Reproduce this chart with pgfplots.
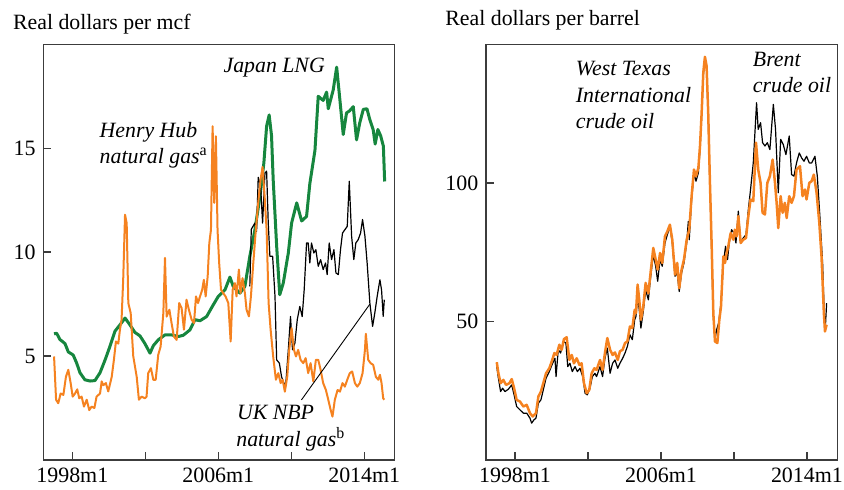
\documentclass[border=0pt,11pt]{standalone}
\usepackage{fontspec}
\setmainfont{Liberation Serif}
\usepackage{pgfplots}
\pgfplotsset{compat=1.18}
\definecolor{lng}{RGB}{22,134,62}
\definecolor{org}{RGB}{245,130,32}
\definecolor{axgray}{RGB}{60,60,60}
\pgfplotsset{
  panel/.style={
    scale only axis, width=175.6bp, height=207.85bp,
    xmin=1996.41, xmax=2015.66,
    xtick={1998,2002,2006,2010,2014},
    xticklabels={1998m1,,2006m1,,2014m1},
    tick pos=left, tick align=inside,
    major tick length=4bp,
    axis line style={axgray, line width=0.7bp},
    every tick/.style={axgray, line width=0.7bp},
    /pgf/number format/assume math mode=true,
    tick label style={font=\fontsize{11}{13}\selectfont},
    clip mode=individual,
  }
}
\begin{document}
\begin{tikzpicture}
% ---------------- left panel ----------------
\begin{axis}[panel, at={(21.65bp,15bp)}, anchor=south west,
  ymin=0, ymax=20, ytick={5,10,15}]
% Japan LNG
\addplot[lng, line width=1.5bp, line join=round] coordinates {
(1997.00,6.07) (1997.14,6.10) (1997.32,5.80) (1997.60,5.60) (1997.78,5.20) (1998.05,5.05) (1998.24,4.66) (1998.42,4.20) (1998.69,3.86) (1998.97,3.80) (1999.24,3.82) (1999.52,4.20) (1999.79,4.80) (2000.06,5.46) (2000.34,6.20) (2000.61,6.50) (2000.89,6.83) (2001.16,6.50) (2001.43,6.14) (2001.71,5.97) (2001.98,5.60) (2002.26,5.14) (2002.44,5.50) (2002.71,5.78) (2003.08,6.02) (2003.44,6.02) (2003.81,5.94) (2004.08,6.00) (2004.45,6.26) (2004.72,6.75) (2005.00,6.70) (2005.36,6.90) (2005.73,7.47) (2006.00,7.87) (2006.37,8.19) (2006.64,8.80) (2006.82,8.35) (2007.19,8.03) (2007.46,8.35) (2007.73,9.80) (2008.01,11.08) (2008.29,12.70) (2008.50,14.30) (2008.65,16.06) (2008.79,16.60) (2008.92,15.60) (2009.01,13.50) (2009.20,10.30) (2009.37,7.95) (2009.56,8.50) (2009.84,9.96) (2010.02,11.40) (2010.30,12.37) (2010.57,11.50) (2010.84,11.72) (2011.02,13.30) (2011.30,14.90) (2011.48,17.50) (2011.75,17.30) (2011.94,17.70) (2012.03,16.90) (2012.30,17.80) (2012.49,18.90) (2012.67,17.30) (2012.85,15.66) (2013.03,16.70) (2013.20,16.80) (2013.40,17.00) (2013.58,15.40) (2013.75,16.20) (2013.95,16.87) (2014.15,16.90) (2014.30,16.40) (2014.49,15.90) (2014.60,15.20) (2014.75,15.90) (2014.90,15.60) (2015.05,15.10) (2015.12,13.40)
};
% UK NBP
\addplot[black, line width=0.6bp, line join=round] coordinates {
(2007.73,8.35) (2007.81,11.10) (2008.01,11.40) (2008.10,11.00) (2008.19,13.60) (2008.32,13.20) (2008.43,11.40) (2008.56,13.80) (2008.65,13.90) (2008.74,11.40) (2008.83,9.80) (2008.98,9.80) (2009.11,7.87) (2009.20,4.82) (2009.35,4.66) (2009.47,4.00) (2009.60,3.70) (2009.69,3.53) (2009.84,5.30) (2009.96,6.90) (2010.07,5.30) (2010.20,5.62) (2010.33,6.75) (2010.47,7.39) (2010.60,6.90) (2010.71,8.19) (2010.84,10.44) (2010.93,10.44) (2011.02,9.48) (2011.11,10.44) (2011.24,9.96) (2011.35,10.12) (2011.48,9.32) (2011.61,9.64) (2011.75,9.16) (2011.88,9.48) (2011.97,8.92) (2012.08,10.44) (2012.21,9.64) (2012.34,10.12) (2012.45,9.00) (2012.58,8.92) (2012.70,10.12) (2012.81,10.92) (2012.94,11.08) (2013.07,11.24) (2013.18,13.41) (2013.31,10.76) (2013.43,9.64) (2013.54,10.44) (2013.67,10.60) (2013.80,10.92) (2013.91,11.57) (2014.04,10.76) (2014.16,9.48) (2014.31,7.55) (2014.46,6.43) (2014.58,7.07) (2014.71,7.87) (2014.86,8.67) (2014.95,8.19) (2015.04,6.91) (2015.10,7.71)
};
% Henry Hub
\addplot[org, line width=1bp, line join=round] coordinates {
(1997.00,4.98) (1997.11,2.90) (1997.23,2.73) (1997.36,3.20) (1997.51,3.13) (1997.65,4.00) (1997.78,4.34) (1997.91,3.70) (1998.02,3.05) (1998.15,3.20) (1998.27,3.40) (1998.38,2.97) (1998.51,3.05) (1998.64,2.57) (1998.79,2.90) (1998.93,2.40) (1999.06,2.57) (1999.21,2.50) (1999.33,3.05) (1999.52,3.20) (1999.61,3.78) (1999.70,3.60) (1999.84,3.70) (1999.97,3.30) (2000.16,4.00) (2000.28,4.82) (2000.39,5.70) (2000.52,5.60) (2000.61,6.26) (2000.70,6.75) (2000.79,8.70) (2000.89,11.80) (2000.98,11.40) (2001.07,7.55) (2001.20,7.07) (2001.34,5.00) (2001.53,4.00) (2001.65,2.90) (2001.80,3.05) (2001.98,2.97) (2002.07,3.05) (2002.16,4.18) (2002.31,4.42) (2002.44,3.86) (2002.57,3.86) (2002.71,5.06) (2002.84,5.46) (2002.99,7.07) (2003.08,9.72) (2003.17,6.90) (2003.32,7.23) (2003.44,6.59) (2003.57,5.94) (2003.72,5.78) (2003.86,7.55) (2003.99,7.31) (2004.12,6.27) (2004.26,7.71) (2004.39,7.23) (2004.54,6.75) (2004.67,6.59) (2004.78,7.87) (2004.89,7.55) (2005.00,7.87) (2005.12,8.19) (2005.21,8.67) (2005.31,7.87) (2005.42,8.84) (2005.51,10.44) (2005.60,11.08) (2005.69,16.06) (2005.78,12.37) (2005.87,15.58) (2005.96,11.08) (2006.05,9.48) (2006.15,8.19) (2006.27,8.03) (2006.40,7.87) (2006.55,7.55) (2006.68,5.70) (2006.79,8.19) (2006.91,8.51) (2007.00,7.87) (2007.13,9.16) (2007.22,8.03) (2007.33,8.75) (2007.46,8.03) (2007.55,7.23) (2007.68,6.91) (2007.79,7.87) (2007.92,9.48) (2008.06,11.08) (2008.19,12.37) (2008.32,13.50) (2008.43,14.10) (2008.54,12.70) (2008.65,11.08) (2008.76,7.55) (2008.87,6.27) (2009.01,4.98) (2009.16,3.86) (2009.29,4.18) (2009.42,3.70) (2009.53,3.86) (2009.65,3.29) (2009.78,4.00) (2009.89,5.30) (2010.02,6.35) (2010.15,5.30) (2010.26,4.98) (2010.38,5.30) (2010.51,4.82) (2010.66,4.66) (2010.79,4.90) (2010.93,4.18) (2011.06,4.66) (2011.21,3.78) (2011.35,4.82) (2011.48,4.82) (2011.61,4.34) (2011.75,3.70) (2011.90,3.37) (2012.03,2.90) (2012.16,2.41) (2012.26,2.09) (2012.39,2.90) (2012.54,3.37) (2012.67,3.29) (2012.81,3.70) (2012.94,3.53) (2013.07,3.86) (2013.21,4.18) (2013.34,4.26) (2013.49,3.70) (2013.62,3.53) (2013.76,3.70) (2013.91,4.18) (2014.04,5.30) (2014.09,6.07) (2014.22,4.82) (2014.35,4.66) (2014.49,4.58) (2014.64,4.00) (2014.77,3.86) (2014.86,4.10) (2014.95,3.70) (2015.04,2.97) (2015.10,2.90)
};
\draw[black, line width=0.45bp] (axis cs:2010.56,2.89) -- (axis cs:2014.31,7.50);
\node[anchor=base west, inner sep=0, font=\itshape] at (axis cs:2006.27,18.64) {Japan LNG};
\node[anchor=base west, inner sep=0, font=\itshape] at (axis cs:1999.48,15.50) {Henry Hub};
\node[anchor=base west, inner sep=0, font=\itshape] at (axis cs:1999.48,14.27) {natural gas\textsuperscript{\upshape a}};
\node[anchor=base west, inner sep=0, font=\itshape] at (axis cs:2007.01,1.96) {UK NBP};
\node[anchor=base west, inner sep=0, font=\itshape] at (axis cs:2006.97,0.64) {natural gas\textsuperscript{\upshape b}};
\end{axis}
% ---------------- right panel ----------------
\begin{axis}[panel, at={(243bp,15bp)}, anchor=south west,
  ymin=0, ymax=150, ytick={50,100}]
% Brent
\addplot[black, line width=0.6bp, line join=round] coordinates {
(1997.00,33.7) (1997.09,29.5) (1997.21,24.7) (1997.32,25.9) (1997.45,24.7) (1997.63,25.5) (1997.82,27.1) (1997.95,23.5) (1998.09,19.3) (1998.27,18.1) (1998.46,16.9) (1998.64,16.9) (1998.82,15.1) (1998.91,13.3) (1999.04,14.5) (1999.15,15.1) (1999.28,20.5) (1999.42,21.7) (1999.55,25.3) (1999.70,29.5) (1999.88,31.9) (2000.06,34.9) (2000.19,36.7) (2000.25,30.1) (2000.37,39.8) (2000.50,38.6) (2000.65,42.8) (2000.79,42.2) (2000.89,33.7) (2001.01,34.9) (2001.14,31.9) (2001.29,33.7) (2001.42,31.9) (2001.56,33.1) (2001.71,30.1) (2001.84,24.1) (2001.96,23.5) (2002.11,25.9) (2002.24,30.1) (2002.38,31.3) (2002.47,30.1) (2002.66,33.7) (2002.80,30.1) (2002.93,36.7) (2003.06,40.4) (2003.21,31.3) (2003.35,34.9) (2003.48,36.1) (2003.63,33.1) (2003.75,34.9) (2003.90,36.7) (2004.03,38.6) (2004.16,41.0) (2004.30,45.2) (2004.43,43.4) (2004.56,50.6) (2004.63,51.8) (2004.72,59.0) (2004.81,54.2) (2004.90,47.6) (2005.03,53.6) (2005.16,61.4) (2005.31,57.8) (2005.43,65.7) (2005.58,74.1) (2005.71,69.9) (2005.82,64.5) (2005.95,72.3) (2006.07,69.9) (2006.22,78.3) (2006.35,81.3) (2006.49,84.3) (2006.62,78.3) (2006.77,66.3) (2006.89,67.5) (2007.00,60.8) (2007.13,67.5) (2007.26,71.1) (2007.41,78.3) (2007.50,86.1) (2007.55,79.5) (2007.68,94.0) (2007.81,103.6) (2007.92,100.6) (2008.05,103.6) (2008.14,112.0) (2008.23,124.1) (2008.32,138.6) (2008.41,145.2) (2008.50,141.6) (2008.59,124.1) (2008.68,100.0) (2008.78,75.9) (2008.87,51.8) (2008.96,43.4) (2009.05,47.0) (2009.16,49.4) (2009.29,56.6) (2009.42,71.1) (2009.54,77.1) (2009.65,72.3) (2009.74,78.3) (2009.87,83.1) (2010.00,81.9) (2010.11,78.3) (2010.24,89.8) (2010.37,78.3) (2010.51,80.1) (2010.66,81.3) (2010.79,90.4) (2010.91,97.6) (2011.06,107.2) (2011.24,128.9) (2011.33,119.3) (2011.46,121.7) (2011.57,114.5) (2011.70,113.3) (2011.83,114.5) (2011.97,112.0) (2012.16,128.3) (2012.28,119.3) (2012.43,96.4) (2012.56,115.7) (2012.70,113.9) (2012.85,110.2) (2013.03,116.9) (2013.16,103.0) (2013.29,102.4) (2013.43,107.2) (2013.58,110.8) (2013.71,109.0) (2013.84,107.8) (2013.98,109.6) (2014.13,107.2) (2014.26,107.2) (2014.44,109.6) (2014.57,102.4) (2014.71,88.0) (2014.86,71.1) (2014.95,53.0) (2015.00,46.4) (2015.08,56.6)
};
% WTI
\addplot[org, line width=1.25bp, line join=round] coordinates {
(1997.00,35.3) (1997.09,31.3) (1997.21,27.7) (1997.36,28.9) (1997.51,27.1) (1997.69,27.7) (1997.82,29.2) (1997.95,25.9) (1998.09,21.7) (1998.27,21.1) (1998.46,19.3) (1998.64,19.9) (1998.82,16.9) (1998.97,15.7) (1999.15,16.9) (1999.28,22.9) (1999.42,24.7) (1999.55,27.7) (1999.70,31.3) (1999.88,33.1) (2000.01,35.5) (2000.16,38.6) (2000.28,37.9) (2000.43,41.6) (2000.56,39.8) (2000.68,43.6) (2000.83,44.3) (2000.98,36.1) (2001.11,37.9) (2001.23,34.9) (2001.38,36.7) (2001.53,34.3) (2001.65,34.9) (2001.78,27.7) (2001.93,24.1) (2002.07,25.3) (2002.20,31.3) (2002.35,33.1) (2002.47,32.5) (2002.66,36.1) (2002.80,32.5) (2002.93,38.6) (2003.06,44.0) (2003.21,39.8) (2003.35,37.9) (2003.48,38.8) (2003.63,36.1) (2003.75,39.2) (2003.90,39.8) (2004.03,42.2) (2004.16,42.8) (2004.30,48.2) (2004.43,47.6) (2004.56,54.2) (2004.63,53.0) (2004.72,63.3) (2004.81,57.8) (2004.90,50.6) (2005.03,55.4) (2005.16,63.9) (2005.31,60.2) (2005.43,67.5) (2005.58,76.5) (2005.71,72.3) (2005.82,68.7) (2005.95,74.7) (2006.07,71.1) (2006.22,80.7) (2006.35,82.5) (2006.49,84.9) (2006.62,79.5) (2006.77,66.9) (2006.89,71.1) (2007.00,62.0) (2007.13,68.7) (2007.26,72.3) (2007.41,79.5) (2007.55,83.1) (2007.68,95.2) (2007.81,104.8) (2007.92,102.4) (2008.05,105.4) (2008.14,113.3) (2008.23,125.3) (2008.32,139.8) (2008.41,145.5) (2008.50,142.2) (2008.59,125.3) (2008.68,101.2) (2008.78,77.1) (2008.87,53.0) (2008.96,42.8) (2009.09,42.2) (2009.20,50.6) (2009.29,55.4) (2009.42,73.5) (2009.51,71.1) (2009.60,74.7) (2009.69,77.1) (2009.82,81.9) (2009.96,79.5) (2010.05,83.1) (2010.15,80.7) (2010.24,88.0) (2010.37,78.3) (2010.51,79.5) (2010.66,80.1) (2010.79,88.0) (2010.91,94.0) (2011.06,93.4) (2011.21,114.5) (2011.33,104.8) (2011.46,100.0) (2011.57,89.2) (2011.70,88.6) (2011.83,100.0) (2011.97,102.4) (2012.12,108.4) (2012.25,100.0) (2012.34,92.8) (2012.43,83.7) (2012.56,95.2) (2012.67,89.2) (2012.79,92.8) (2012.89,87.3) (2013.03,95.2) (2013.16,92.8) (2013.29,95.2) (2013.43,104.8) (2013.62,106.0) (2013.76,95.2) (2013.89,97.6) (2013.98,94.0) (2014.13,100.0) (2014.26,100.6) (2014.38,103.0) (2014.53,96.4) (2014.68,85.5) (2014.80,73.5) (2014.93,53.0) (2014.99,46.4) (2015.08,48.8)
};
\node[anchor=base west, inner sep=0, font=\itshape] at (axis cs:2001.32,138.8) {West Texas};
\node[anchor=base west, inner sep=0, font=\itshape] at (axis cs:2001.32,129.1) {International};
\node[anchor=base west, inner sep=0, font=\itshape] at (axis cs:2001.32,119.5) {crude oil};
\node[anchor=base west, inner sep=0, font=\itshape] at (axis cs:2011.02,141.9) {Brent};
\node[anchor=base west, inner sep=0, font=\itshape] at (axis cs:2011.02,132.5) {crude oil};
\end{axis}
\node[anchor=base west, inner sep=0] at (6.35bp,230.35bp) {Real dollars per mcf};
\node[anchor=base west, inner sep=0] at (222.5bp,232bp) {Real dollars per barrel};
\pgfresetboundingbox
\path (0,0) rectangle (422bp,245bp);
\end{tikzpicture}
\end{document}
